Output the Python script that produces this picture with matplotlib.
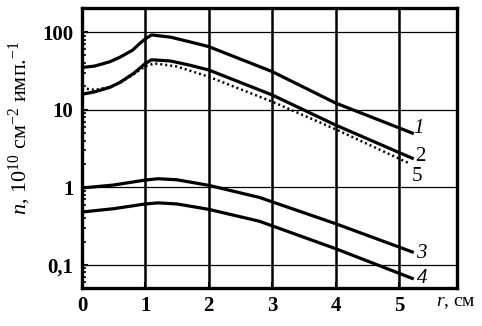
import matplotlib
matplotlib.use("Agg")
import matplotlib.pyplot as plt
from matplotlib.ticker import LogLocator, NullFormatter, FixedLocator, FixedFormatter

plt.rcParams['font.family'] = ['Liberation Serif', 'DejaVu Serif']
plt.rcParams['mathtext.fontset'] = 'custom'
plt.rcParams['mathtext.rm'] = 'Liberation Serif'
plt.rcParams['mathtext.it'] = 'Liberation Serif:italic'

# Curve data (r in cm, n in 1e10 cm^-2 imp^-1)
r1 = [0.0, 0.2, 0.44, 0.6, 0.8, 0.9, 1.0, 1.1, 1.4, 1.7, 2.0, 3.0, 4.0, 5.21]
n1 = [35, 36.5, 41.5, 47.5, 58.6, 70, 82, 92, 86, 75, 65, 31, 12.2, 5.0]

r2 = [0.0, 0.2, 0.44, 0.6, 0.8, 0.9, 1.0, 1.1, 1.4, 1.7, 2.0, 3.0, 4.0, 5.21]
n2 = [15.8, 17.0, 19.4, 22.5, 28.8, 33.5, 39.5, 44, 42.4, 37.5, 32.5, 15.5, 6.35, 2.37]

r5 = [0.0, 0.2, 0.44, 0.6, 0.8, 0.9, 1.0, 1.15, 1.5, 2.0, 3.0, 4.0, 5.15]
n5 = [19.0, 18.0, 19.6, 22.3, 28.0, 32.0, 36.5, 39.5, 36.0, 26.6, 12.7, 5.6, 2.06]

r3 = [0.0, 0.5, 1.0, 1.2, 1.5, 2.0, 2.8, 4.0, 5.21]
n3 = [0.98, 1.07, 1.24, 1.29, 1.25, 1.06, 0.74, 0.34, 0.147]

r4 = [0.0, 0.5, 1.0, 1.2, 1.5, 2.0, 2.8, 4.0, 5.21]
n4 = [0.48, 0.53, 0.61, 0.63, 0.61, 0.52, 0.365, 0.162, 0.067]

x_ticks = [0, 1, 2, 3, 4, 5]
x_tick_labels = ['0', '1', '2', '3', '4', '5']
y_ticks = [0.1, 1, 10, 100]
y_tick_labels = ['0,1', '1', '10', '100']

curve_labels = ['1', '2', '5', '3', '4']
label_r = [5.31, 5.34, 5.28, 5.36, 5.36]
label_n = [5.65, 2.46, 1.36, 0.139, 0.0662]
label_style = ['italic', 'normal', 'normal', 'italic', 'italic']

fig = plt.figure(figsize=(4.82, 3.26), dpi=100)
ax = fig.add_axes([0.170, 0.117, 0.778, 0.858])
ax.set_yscale('log')
ax.set_xlim(0, 5.915)
ax.set_ylim(0.0506, 203.6)

# grid
for xv in x_ticks[1:]:
    ax.axvline(xv, color='black', lw=1.8, zorder=1)
for yv in y_ticks:
    ax.axhline(yv, color='black', lw=0.9, zorder=1)

lw = 2.3
ax.plot(r1, n1, color='black', lw=lw, zorder=3)
ax.plot(r2, n2, color='black', lw=lw, zorder=3)
ax.plot(r5, n5, color='black', lw=1.8, linestyle=(0, (0.8, 1.2)), zorder=3)
ax.plot(r3, n3, color='black', lw=lw, zorder=3)
ax.plot(r4, n4, color='black', lw=lw, zorder=3)

for t, xr, yn, st in zip(curve_labels, label_r, label_n, label_style):
    ax.text(xr, yn, t, fontsize=15, style=st, ha='center', va='center')

ax.xaxis.set_major_locator(FixedLocator(x_ticks))
ax.xaxis.set_major_formatter(FixedFormatter(x_tick_labels))
ax.yaxis.set_major_locator(FixedLocator(y_ticks))
ax.yaxis.set_major_formatter(FixedFormatter(y_tick_labels))
ax.yaxis.set_minor_locator(LogLocator(base=10, subs=range(2, 10)))
ax.yaxis.set_minor_formatter(NullFormatter())

ax.tick_params(axis='both', which='major', direction='in', length=4, width=1.5,
               labelsize=15, pad=6)
ax.tick_params(axis='y', which='minor', direction='in', length=3, width=1.2)
for lab in ax.get_xticklabels() + ax.get_yticklabels():
    lab.set_fontweight('bold')
for sp in ax.spines.values():
    sp.set_linewidth(2.4)

ax.set_ylabel(r'$n$, 10$^{10}$ см$^{-2}$ имп.$^{-1}$', fontsize=16)
ax.yaxis.set_label_coords(-0.131, 0.571)
fig.text(0.945, 0.073, r'$r$, см', fontsize=14, ha='center', va='center')

fig.savefig('out.png', dpi=100)
